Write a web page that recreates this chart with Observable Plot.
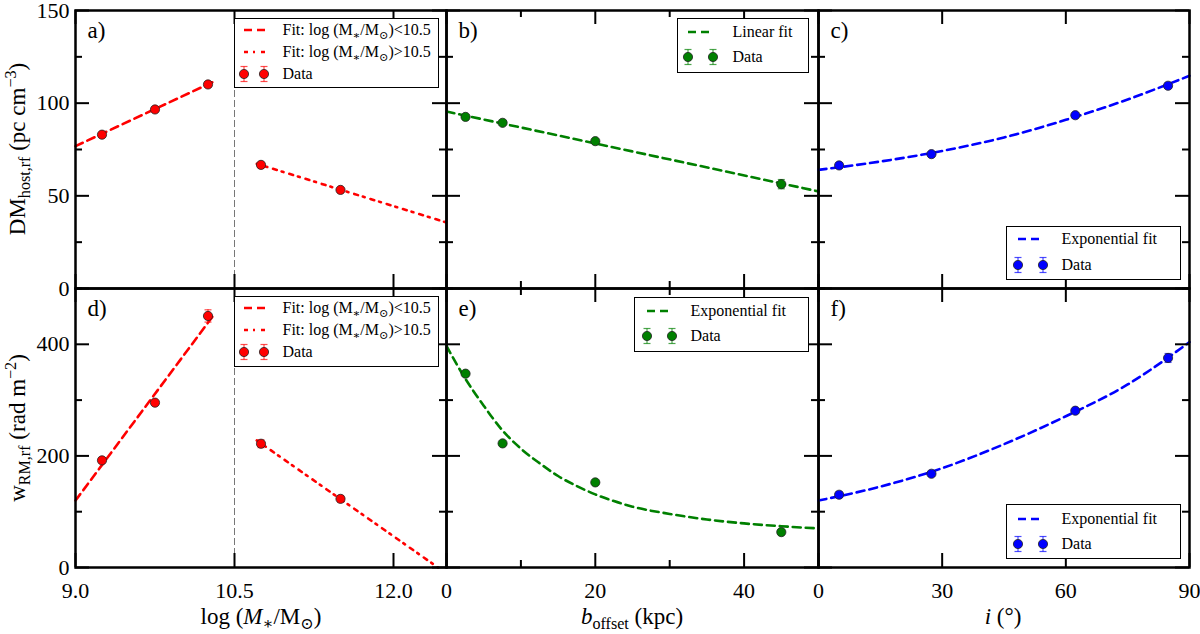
<!DOCTYPE html>
<html>
<head>
<meta charset="utf-8">
<script src="https://cdn.jsdelivr.net/npm/d3@7"></script>
<script src="https://cdn.jsdelivr.net/npm/@observablehq/plot@0.6"></script>
<style>
  body { margin: 0; background: #fff; }
  #chart { position: relative; width: 1200px; height: 634px; font-family: "Liberation Serif", "DejaVu Serif", serif; color: #000; overflow: hidden; }
  #chart svg text { font-family: "Liberation Serif", "DejaVu Serif", serif !important; }
  .lbl { position: absolute; white-space: nowrap; font-size: 23px; line-height: 1; }
  .ylab { transform: translate(-50%, -50%) rotate(-90deg); }
  .xlab { transform: translate(-50%, -50%); }
  .legend { position: absolute; border: 1.5px solid #000; background: #fff; box-sizing: border-box; }
  .ltxt { position: absolute; transform: translateY(-50%); font-size: 16px; white-space: nowrap; line-height: 1; }
  sub, sup { font-size: 0.7em; line-height: 0; }
</style>
</head>
<body>
<div id="chart"></div>
<script>
// ---- data ----
// log stellar mass bins (panels a, d)
const massX = [9.25, 9.75, 10.25, 10.75, 11.5];
const massDM = [83, 96.6, 110.1, 66.7, 53.2];
const massDMerr = [1.2, 1.2, 1.5, 1.5, 1.2];
const massW = [192, 295.4, 450.8, 221.8, 123];
const massWerr = [5, 4, 11, 7, 6];
// fits below / above 10.5
const lowFitX = [9.0, 10.31];
const lowFitDM = [76.8, 111.8];
const highFitX = [10.71, 12.5];
const highFitDM = [67.3, 35.6];
const lowFitWX = [9.0, 10.31];
const lowFitW = [120, 454];
const highFitWX = [10.71, 12.42];
const highFitW = [227.8, 0];

// impact offset bins (panels b, e)
const offX = [2.56, 7.54, 20, 45];
const offDM = [92.6, 89.4, 79.5, 56.3];
const offDMerr = [1, 1, 1, 2.5];
const offW = [347.4, 222.4, 152.5, 63.4];
const offWerr = [4, 4, 4, 4];
const offFitX = [0, 50];
const offFitDM = [95.5, 52.4];
const offFitWX = [0, 2.5, 5, 7.5, 10, 12.5, 15, 17.5, 20, 22.5, 25, 30, 35, 40, 45, 50];
const offFitW = [397, 339, 290, 246, 213, 187, 164, 146, 131, 119, 109, 96, 86, 79, 74, 70];

// inclination bins (panels c, f)
const incX = [5.0, 27.4, 62.3, 84.8];
const incDM = [66.4, 72.5, 93.5, 109.4];
const incDMerr = [1.5, 1, 1, 1.5];
const incW = [130.4, 168, 281, 375.5];
const incWerr = [5, 4, 4, 8];
const incFitX = [0, 15, 30, 45, 60, 75, 90];
const incFitDM = [64, 68.5, 74.2, 81.5, 91, 102, 114.8];
const incFitW = [120, 145, 178, 221, 271, 328, 404];

// ---- layout ----
const serif = '"Liberation Serif", "DejaVu Serif", serif';
const cols = [{x: 75, w: 371}, {x: 446, w: 372}, {x: 818, w: 371}];
const rows = [{y: 10, h: 278}, {y: 288, h: 279}];
const M = {top: 10, right: 20, bottom: 70, left: 75};
const RED = "#ff0000", GREEN = "#008000", BLUE = "#0000ff";
const DASH = "8,5", DASHDOT = "4,5,2,6";

// flat cap for error bars
const cap = {draw(ctx, size) { const r = Math.sqrt(size / Math.PI); ctx.moveTo(-r, 0); ctx.lineTo(r, 0); }};

function points(xs, ys, es, color) {
  const lo = ys.map((v, i) => v - es[i]);
  const hi = ys.map((v, i) => v + es[i]);
  const eb = {stroke: color, strokeOpacity: 0.7, strokeWidth: 1.2};
  return [
    Plot.ruleX(xs, {x: xs, y1: lo, y2: hi, ...eb}),
    Plot.dot(xs, {x: xs, y: lo, symbol: cap, r: 3.5, fill: "none", ...eb}),
    Plot.dot(xs, {x: xs, y: hi, symbol: cap, r: 3.5, fill: "none", ...eb}),
    Plot.dot(xs, {x: xs, y: ys, r: 4.6, fill: color, stroke: "#222", strokeWidth: 0.8})
  ];
}

function fit(xs, ys, color, dash, curve = "linear") {
  return Plot.line(xs, {x: xs, y: ys, stroke: color, strokeWidth: 2.6, strokeDasharray: dash, curve});
}

function panel(c, r, o) {
  const fw = cols[c].w, fh = rows[r].h;
  const tk = {stroke: "black", strokeWidth: 2};
  const ticks = [];
  // inward ticks on all four sides
  for (const [vals, len] of [[o.xMajor, 14], [o.xMinor || [], 7]]) {
    ticks.push(Plot.ruleX(vals, {...tk, insetTop: fh - len}));
    ticks.push(Plot.ruleX(vals, {...tk, insetBottom: fh - len}));
  }
  for (const [vals, len] of [[o.yMajor, 14], [o.yMinor || [], 7]]) {
    ticks.push(Plot.ruleY(vals, {...tk, insetRight: fw - len}));
    ticks.push(Plot.ruleY(vals, {...tk, insetLeft: fw - len}));
  }
  const chart = Plot.plot({
    width: M.left + fw + M.right,
    height: M.top + fh + M.bottom,
    marginTop: M.top, marginRight: M.right, marginBottom: M.bottom, marginLeft: M.left,
    style: `background: transparent; overflow: visible; font-family: ${serif}; font-size: 22px; color: black;`,
    x: r === 1
      ? {domain: o.xDomain, ticks: o.xMajor, tickSize: 0, tickPadding: 15, tickFormat: o.xFormat, label: null}
      : {domain: o.xDomain, axis: null},
    y: c === 0
      ? {domain: o.yDomain, ticks: o.yMajor, tickSize: 0, tickPadding: 6, label: null}
      : {domain: o.yDomain, axis: null},
    marks: [
      ...o.marks,
      ...ticks,
      Plot.frame({stroke: "black", strokeWidth: 2.5}),
      Plot.text([o.tag], {frameAnchor: "top-left", dx: 12, dy: 11, lineAnchor: "top", textAnchor: "start", fontSize: 23, fontFamily: serif})
    ]
  });
  chart.style.position = "absolute";
  chart.style.left = (cols[c].x - M.left) + "px";
  chart.style.top = (rows[r].y - M.top) + "px";
  document.getElementById("chart").append(chart);
}

const yTop = {yDomain: [0, 150], yMajor: [0, 50, 100, 150], yMinor: [25, 75, 125]};
const yBot = {yDomain: [0, 500], yMajor: [0, 200, 400], yMinor: [100, 300, 500]};
const xMass = {xDomain: [9, 12.5], xMajor: [9, 10.5, 12], xFormat: d => d.toFixed(1)};
const xOff = {xDomain: [0, 50], xMajor: [0, 20, 40], xMinor: [10, 30, 50]};
const xInc = {xDomain: [0, 90], xMajor: [0, 30, 60, 90]};
const split = Plot.ruleX([10.5], {stroke: "#777", strokeWidth: 1, strokeDasharray: "7,3"});

panel(0, 0, {...xMass, ...yTop, tag: "a)", marks: [
  split,
  fit(lowFitX, lowFitDM, RED, DASH),
  fit(highFitX, highFitDM, RED, DASHDOT),
  ...points(massX, massDM, massDMerr, RED)
]});
panel(1, 0, {...xOff, ...yTop, tag: "b)", marks: [
  fit(offFitX, offFitDM, GREEN, DASH),
  ...points(offX, offDM, offDMerr, GREEN)
]});
panel(2, 0, {...xInc, ...yTop, tag: "c)", marks: [
  fit(incFitX, incFitDM, BLUE, DASH, "monotone-x"),
  ...points(incX, incDM, incDMerr, BLUE)
]});
panel(0, 1, {...xMass, ...yBot, tag: "d)", marks: [
  split,
  fit(lowFitWX, lowFitW, RED, DASH),
  fit(highFitWX, highFitW, RED, DASHDOT),
  ...points(massX, massW, massWerr, RED)
]});
panel(1, 1, {...xOff, ...yBot, tag: "e)", marks: [
  fit(offFitWX, offFitW, GREEN, DASH, "monotone-x"),
  ...points(offX, offW, offWerr, GREEN)
]});
panel(2, 1, {...xInc, ...yBot, tag: "f)", marks: [
  fit(incFitX, incFitW, BLUE, DASH, "monotone-x"),
  ...points(incX, incW, incWerr, BLUE)
]});

// ---- axis titles ----
const root = d3.select("#chart");
function label(x, y, html, cls) {
  root.append("div").attr("class", "lbl " + cls).style("left", x + "px").style("top", y + "px").html(html);
}
label(17, 149, "DM<sub>host,rf</sub> (pc cm<sup>−3</sup>)", "ylab");
label(17, 428, "w<sub>RM,rf</sub> (rad m<sup>−2</sup>)", "ylab");
label(261, 616, "log (<i>M</i><sub>∗</sub>/M<sub>⊙</sub>)", "xlab");
label(632, 616, "<i>b</i><sub>offset</sub> (kpc)", "xlab");
label(1003, 616, "<i>i</i> (°)", "xlab");

// ---- legends ----
function legend(box, entries) {
  const [bx, by, bw, bh] = box;
  const div = root.append("div").attr("class", "legend")
    .style("left", bx + "px").style("top", by + "px")
    .style("width", bw + "px").style("height", bh + "px");
  for (const e of entries) {
    const len = e.x2 - e.x1;
    const svg = div.append("svg").attr("width", len + 12).attr("height", 22)
      .style("position", "absolute")
      .style("left", (e.x1 - bx - 6 - 1.5) + "px")
      .style("top", (e.y - by - 11 - 1.5) + "px");
    if (e.kind === "data") {
      for (const cx of [6, len + 6]) {
        const g = svg.append("g").attr("stroke", e.color).attr("stroke-opacity", 0.7).attr("stroke-width", 1.2);
        g.append("line").attr("x1", cx).attr("x2", cx).attr("y1", 3.5).attr("y2", 18.5);
        g.append("line").attr("x1", cx - 3.5).attr("x2", cx + 3.5).attr("y1", 3.5).attr("y2", 3.5);
        g.append("line").attr("x1", cx - 3.5).attr("x2", cx + 3.5).attr("y1", 18.5).attr("y2", 18.5);
        svg.append("circle").attr("cx", cx).attr("cy", 11).attr("r", 4.6)
          .attr("fill", e.color).attr("stroke", "#222").attr("stroke-width", 0.8);
      }
    } else {
      svg.append("line").attr("x1", 6).attr("x2", len + 6).attr("y1", 11).attr("y2", 11)
        .attr("stroke", e.color).attr("stroke-width", 2.5).attr("stroke-dasharray", e.dash);
    }
    div.append("span").attr("class", "ltxt")
      .style("left", (e.tx - bx - 1.5) + "px").style("top", (e.y - by - 1.5) + "px")
      .html(e.html);
  }
}
const fitLow = "Fit: log (M<sub>∗</sub>/M<sub>⊙</sub>)&lt;10.5";
const fitHigh = "Fit: log (M<sub>∗</sub>/M<sub>⊙</sub>)&gt;10.5";
legend([234, 18, 205, 70], [
  {y: 30, x1: 244, x2: 266, tx: 283, kind: "line", color: RED, dash: DASH, html: fitLow},
  {y: 52.5, x1: 244, x2: 266, tx: 283, kind: "line", color: RED, dash: DASHDOT, html: fitHigh},
  {y: 74.5, x1: 244, x2: 264, tx: 283, kind: "data", color: RED, html: "Data"}
]);
legend([234, 296, 205, 71], [
  {y: 308.5, x1: 244, x2: 266, tx: 283, kind: "line", color: RED, dash: DASH, html: fitLow},
  {y: 330.5, x1: 244, x2: 266, tx: 283, kind: "line", color: RED, dash: DASHDOT, html: fitHigh},
  {y: 352.5, x1: 244, x2: 264, tx: 283, kind: "data", color: RED, html: "Data"}
]);
legend([677, 18, 132, 55], [
  {y: 32, x1: 688, x2: 712, tx: 733, kind: "line", color: GREEN, dash: DASH, html: "Linear fit"},
  {y: 57.5, x1: 688, x2: 713, tx: 733, kind: "data", color: GREEN, html: "Data"}
]);
legend([634, 297, 175, 55], [
  {y: 311, x1: 647, x2: 671, tx: 691, kind: "line", color: GREEN, dash: DASH, html: "Exponential fit"},
  {y: 336, x1: 647, x2: 672, tx: 691, kind: "data", color: GREEN, html: "Data"}
]);
legend([1006, 226, 175, 54], [
  {y: 239.5, x1: 1018, x2: 1042, tx: 1062, kind: "line", color: BLUE, dash: DASH, html: "Exponential fit"},
  {y: 265, x1: 1018, x2: 1043, tx: 1062, kind: "data", color: BLUE, html: "Data"}
]);
legend([1006, 504, 175, 55], [
  {y: 519, x1: 1018, x2: 1042, tx: 1062, kind: "line", color: BLUE, dash: DASH, html: "Exponential fit"},
  {y: 544, x1: 1018, x2: 1043, tx: 1062, kind: "data", color: BLUE, html: "Data"}
]);
</script>
</body>
</html>
